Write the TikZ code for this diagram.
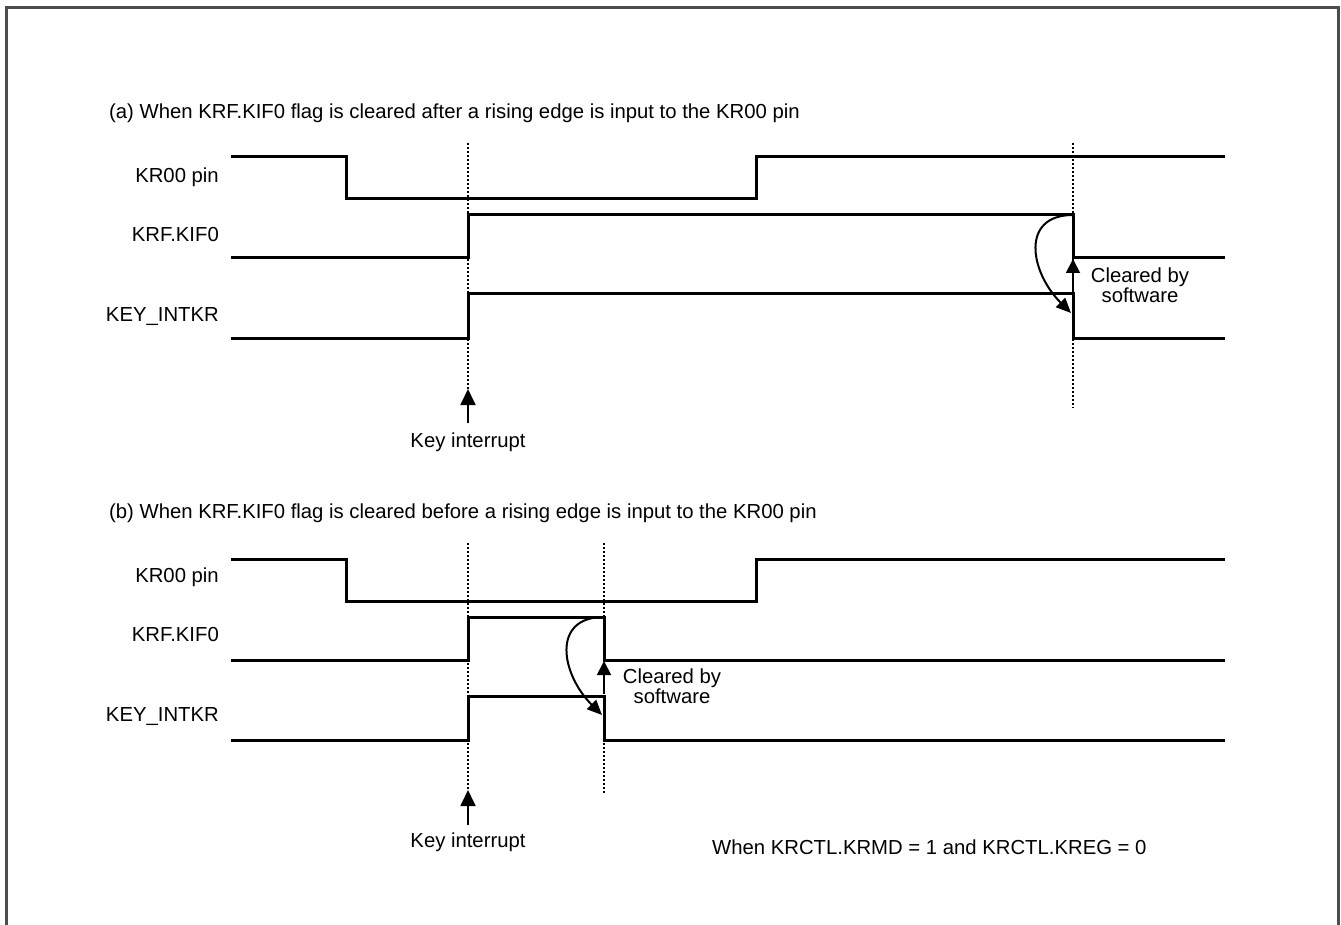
\documentclass[tikz,border=0pt]{standalone}
\usepackage{fontspec}
\setmainfont{Liberation Sans}
\usetikzlibrary{arrows.meta}
\begin{document}
\begin{tikzpicture}[x=1pt,y=-1pt,
  wave/.style={line width=3pt, line join=miter, line cap=butt},
  guide/.style={line width=1.4pt, dash pattern=on 2pt off 2pt},
  txt/.style={font=\fontsize{20.3}{20}\selectfont, inner sep=0pt, text=black},
  sig/.style={txt, anchor=east},
  keyarrow/.style={line width=1.8pt, -{Triangle[length=16pt,width=15pt]}},
  uparrow/.style={line width=1.8pt, -{Triangle[length=14pt,width=14pt]}},
  curvearrow/.style={line width=2pt, -{Triangle[length=15pt,width=13pt]}},
  frame/.style={line width=2.5pt, draw=black!70}]
\useasboundingbox (0,0) rectangle (1341,925);
\draw[frame] (6.5,925) -- (6.5,7.5) -- (1338.5,7.5) -- (1338.5,925);

% ---------- panel (a)
\node[txt, anchor=west] (ta) at (109,113) {(a) When KRF.KIF0 flag is cleared after a rising edge is input to the KR00 pin};
\node[sig] (la1) at (219,177) {KR00 pin};
\node[sig] (la2) at (219,235) {KRF.KIF0};
\node[sig] (la3) at (219,317) {KEY\_INTKR};
\draw[wave] (231,157) -- (346,157) -- (346,199) -- (756,199) -- (756,157) -- (1225,157);
\draw[wave] (231,258) -- (468,258) -- (468,215) -- (1073,215) -- (1073,258) -- (1225,258);
\draw[wave] (231,338) -- (468,338) -- (468,294) -- (1073,294) -- (1073,338) -- (1225,338);
\coordinate (ga1t) at (468,143); \coordinate (ga1b) at (468,389);
\coordinate (ga2t) at (1073,143); \coordinate (ga2b) at (1073,408);
\draw[guide] (ga1t) -- (ga1b);
\draw[guide] (ga2t) -- (ga2b);
\node[txt] (kia) at (468,442) {Key interrupt};
\coordinate (kas) at (468,423);
\draw[keyarrow] (kas) -- (ga1b);
\coordinate (uas) at (1073,293); \coordinate (uae) at (1073,259);
\draw[uparrow] (uas) -- (uae);
\coordinate (cas) at (1073,215); \coordinate (cae) at (1071,313);
\draw[curvearrow] (cas) .. controls (1020,215) and (1030,272) .. (cae);
\node[txt, align=center] (csa) at (1140,285) {Cleared by\\software};

% ---------- panel (b)
\node[txt, anchor=west] (tb) at (109,513) {(b) When KRF.KIF0 flag is cleared before a rising edge is input to the KR00 pin};
\node[sig] (lb1) at (219,577) {KR00 pin};
\node[sig] (lb2) at (219,635) {KRF.KIF0};
\node[sig] (lb3) at (219,717) {KEY\_INTKR};
\draw[wave] (231,559) -- (346,559) -- (346,601) -- (756,601) -- (756,559) -- (1225,559);
\draw[wave] (231,660) -- (468,660) -- (468,617) -- (604,617) -- (604,660) -- (1225,660);
\draw[wave] (231,740) -- (468,740) -- (468,696) -- (604,696) -- (604,740) -- (1225,740);
\coordinate (gb1t) at (468,543); \coordinate (gb1b) at (468,790);
\coordinate (gb2t) at (604,543); \coordinate (gb2b) at (604,793);
\draw[guide] (gb1t) -- (gb1b);
\draw[guide] (gb2t) -- (gb2b);
\node[txt] (kib) at (468,842) {Key interrupt};
\coordinate (kbs) at (468,825);
\draw[keyarrow] (kbs) -- (gb1b);
\coordinate (ubs) at (604,694); \coordinate (ube) at (604,661);
\draw[uparrow] (ubs) -- (ube);
\coordinate (cbs) at (604,617); \coordinate (cbe) at (602,715);
\draw[curvearrow] (cbs) .. controls (551,617) and (561,674) .. (cbe);
\node[txt, align=center] (csb) at (672,686) {Cleared by\\software};
\node[txt, anchor=west] (note) at (712,847) {When KRCTL.KRMD = 1 and KRCTL.KREG = 0};
\end{tikzpicture}
\end{document}
